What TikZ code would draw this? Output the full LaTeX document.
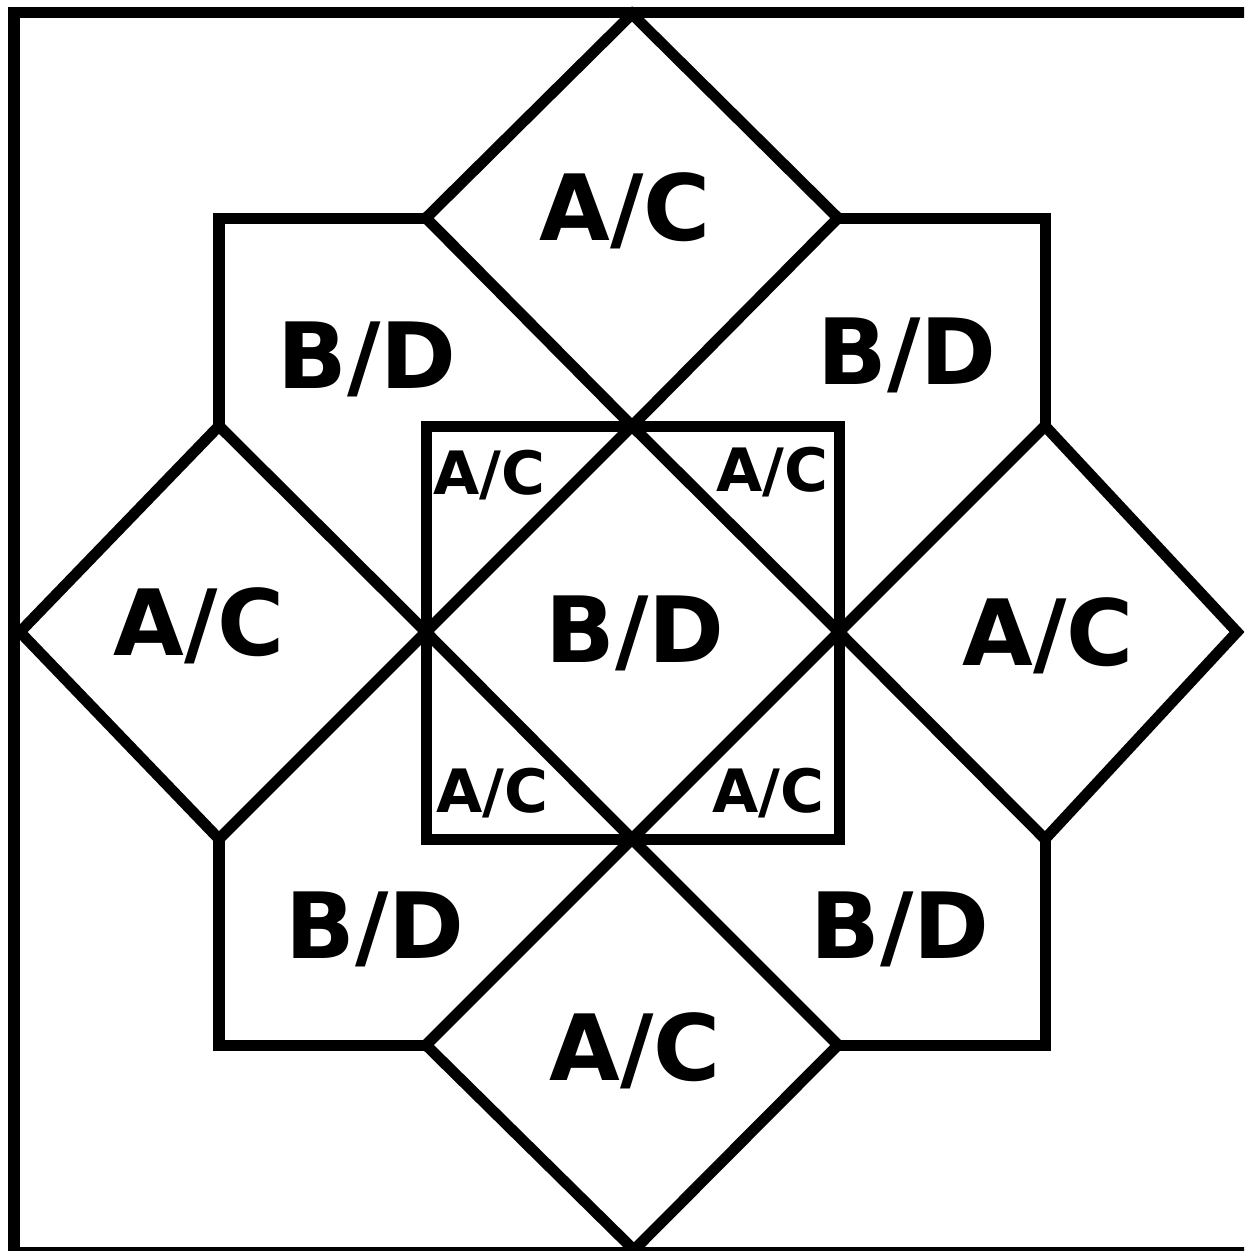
\documentclass[tikz,border=0pt]{standalone}
\usepackage{fontspec}
\setmainfont{DejaVu Sans}
\usetikzlibrary{positioning}
\tikzset{
  ln/.style={line width=1.1mm, line join=miter, line cap=rect},
  lbl/.style={anchor=base, inner sep=0pt, font=\fontsize{26}{26}\selectfont\bfseries},
  slbl/.style={anchor=base, inner sep=0pt, font=\fontsize{17}{17}\selectfont\bfseries},
}
\begin{document}
\begin{tikzpicture}[x=0.01cm, y=-0.01cm]

\useasboundingbox (0,0) rectangle (1244,1251);
\clip (0,0) rectangle (1244,1251);

% frame (open on the right)
\draw[ln] (1260,12) -- (14,12) -- (14,1252) -- (1260,1252);

% diamonds
\draw[ln] (632,14) -- (838,218) -- (632,426) -- (426,218) -- cycle;
\draw[ln] (20,632) -- (219,426) -- (426,632) -- (219,839) -- cycle;
\draw[ln] (1237,632) -- (1045,426) -- (839,632) -- (1045,839) -- cycle;
\draw[ln] (634,1250) -- (838,1045) -- (632,839) -- (426,1045) -- cycle;
\draw[ln] (632,426) -- (839,632) -- (632,839) -- (426,632) -- cycle;

% inner square
\draw[ln] (426,426) rectangle (839,839);

% corner pieces
\draw[ln] (426,218) -- (219,218) -- (219,426);
\draw[ln] (838,218) -- (1045,218) -- (1045,426);
\draw[ln] (219,839) -- (219,1045) -- (426,1045);
\draw[ln] (1045,839) -- (1045,1045) -- (838,1045);

% labels
\node[lbl] (acT) at (625,240) {A/C};
\node[lbl] (acL) at (199,655) {A/C};
\node[lbl] (acR) at (1048,665) {A/C};
\node[lbl] (acB) at (635,1080) {A/C};
\node[lbl] (bdC) at (635,662) {B/D};
\node[lbl] (bdTL) at (367,388) {B/D};
\node[lbl] (bdTR) at (907,384) {B/D};
\node[lbl] (bdBL) at (375,958) {B/D};
\node[lbl] (bdBR) at (900,958) {B/D};
\node[slbl] (acTL) at (489,494) {A/C};
\node[slbl] (acTR) at (772,491) {A/C};
\node[slbl] (acBL) at (492,812) {A/C};
\node[slbl] (acBR) at (768,812) {A/C};

\end{tikzpicture}
\end{document}
